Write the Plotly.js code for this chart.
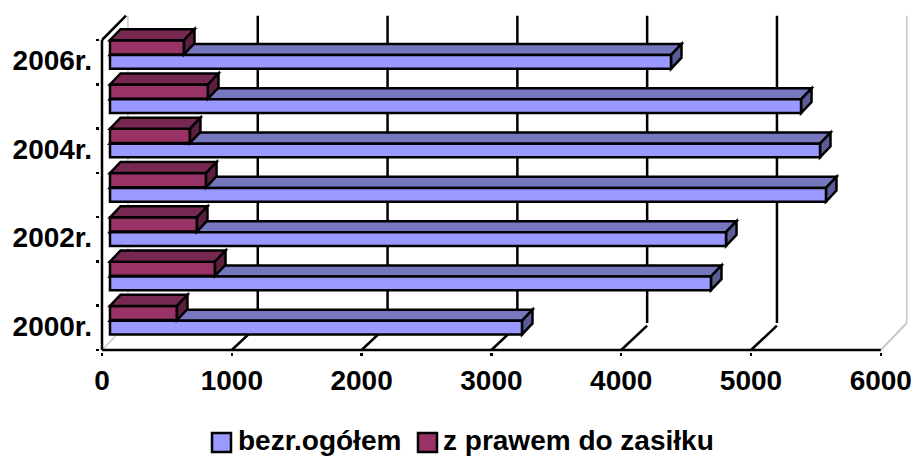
<!DOCTYPE html>
<html><head><meta charset="utf-8">
<script src="https://cdn.plot.ly/plotly-3.0.1.min.js"></script>
<style>html,body{margin:0;padding:0;background:#fff}</style></head>
<body><div id="c" style="width:915px;height:456px"></div>
<script>
var years = [0.5,1.5,2.5,3.5,4.5,5.5,6.5];
var yearTickVals = [0.54,2.54,4.54,6.54];
var yearTickText = ['2000r.','2002r.','2004r.','2006r.'];
var bandEdges = [0,1,2,3,4,5,6,7];
var valueTicks = [0,1000,2000,3000,4000,5000,6000];
var bezrOgolem = [3174,4630,4746,5516,5470,5324,4322];
var zPrawem = [516,809,670,740,616,755,570];
var nameBlue = 'bezr.ogółem', nameRed = 'z prawem do zasiłku';

var FONT = '"Liberation Sans", Arial, sans-serif', FS = 28;
var ink = '#000', LW = 2.5;
var start = 61.6, ddx = 81, ddy = 0.25;      // bar depth in data units
var wallX = 200, wallY = 0.61, topY = 7.55;  // wall depth in data units
var blueOff = -0.15, blueW = 0.31, redOff = 0.175, redW = 0.32;
var shapes = [];
function poly(p, fill, layer){
  shapes.push({type:'path', xref:'x', yref:'y', layer:layer,
    path:'M'+p.map(function(q){return q[0]+','+q[1]}).join(' L')+' Z',
    fillcolor:fill, line:{color:ink,width:LW}});
}
function seg(x0,y0,x1,y1,color,w,layer){
  shapes.push({type:'line',xref:'x',yref:'y',layer:layer||'below',x0:x0,y0:y0,x1:x1,y1:y1,line:{color:color,width:w}});
}
// walls and floor
seg(wallX,wallY,wallX,topY,'#c8c8c8',1.5);
seg(6000+wallX,wallY,6000+wallX,topY,'#c8c8c8',1.5);
seg(0,0,wallX,wallY,'#c8c8c8',1.5);
seg(6000,0,6000+wallX,wallY,'#c8c8c8',2);
valueTicks.slice(1,6).forEach(function(t){
  seg(t+wallX,wallY,t+wallX,topY,ink,LW);
  seg(t,0,t+wallX,wallY-0.06,ink,LW);
});
seg(0,0,6000,0,ink,LW);
seg(0,0,0,7,ink,LW);
seg(0,7,wallX-15,topY,ink,LW);
// depth faces
function faces(vals,off,w,topC,sideC,layer){
  vals.forEach(function(v,i){
    var r = start+v, b = years[i]+off, t = b+w;
    poly([[start,t],[start+ddx,t+ddy],[r+ddx,t+ddy],[r,t]],topC,layer);
    poly([[r,t],[r+ddx,t+ddy],[r+ddx,b+ddy],[r,b]],sideC,layer);
  });
}
faces(bezrOgolem,blueOff,blueW,'#7777BF','#5C5C99','below');
faces(zPrawem,redOff,redW,'#772850','#5C1F3D','above');

function bar(vals,name,color,off,w){
  return {type:'bar',orientation:'h',name:name,y:years,x:vals,
    base:vals.map(function(){return start}),offset:off,width:w,
    marker:{color:color,line:{color:ink,width:LW}},showlegend:false,hoverinfo:'x+name'};
}
var data = [bar(bezrOgolem,nameBlue,'#9999FF',blueOff,blueW),
            bar(zPrawem,nameRed,'#993366',redOff,redW)];

// legend
var ann = [];
function legendItem(px0,color,textPx,name){
  shapes.push({type:'rect',xref:'paper',yref:'paper',layer:'above',
    x0:(px0-100)/808,x1:(px0+19-100)/808,y0:-(452-352)/338,y1:-(433-352)/338,
    fillcolor:color,line:{color:ink,width:LW}});
  ann.push({xref:'paper',yref:'paper',x:(textPx-100)/808,y:-(440.5-352)/338,xanchor:'left',yanchor:'middle',
    showarrow:false,text:'<b>'+name+'</b>',xshift:-2,font:{family:FONT,size:FS,color:ink}});
}
legendItem(212,'#9999FF',238,nameBlue);
legendItem(418,'#993366',443,nameRed);

var layout = {
  width:915,height:456,paper_bgcolor:'#fff',plot_bgcolor:'#fff',
  margin:{l:100,r:7,t:14,b:104,pad:0},showlegend:false,bargap:0,
  xaxis:{range:[-15.4,6209.6],tickvals:valueTicks,ticks:'outside',ticklen:3,tickwidth:LW,tickcolor:ink,
    showgrid:false,zeroline:false,showline:false,ticklabelstandoff:0,
    tickfont:{family:FONT,size:FS,color:ink,weight:700}},
  yaxis:{range:[-0.045,7.587],tickmode:'array',tickvals:yearTickVals,ticktext:yearTickText,ticks:'',
    minor:{tickmode:'array',tickvals:bandEdges,ticks:'outside',ticklen:3,tickwidth:LW,tickcolor:ink,showgrid:false},
    showgrid:false,zeroline:false,showline:false,ticklabelstandoff:7,
    tickfont:{family:FONT,size:FS,color:ink,weight:700}},
  shapes:shapes,annotations:ann
};
Plotly.newPlot('c',data,layout,{displayModeBar:false,staticPlot:true});
</script></body></html>
